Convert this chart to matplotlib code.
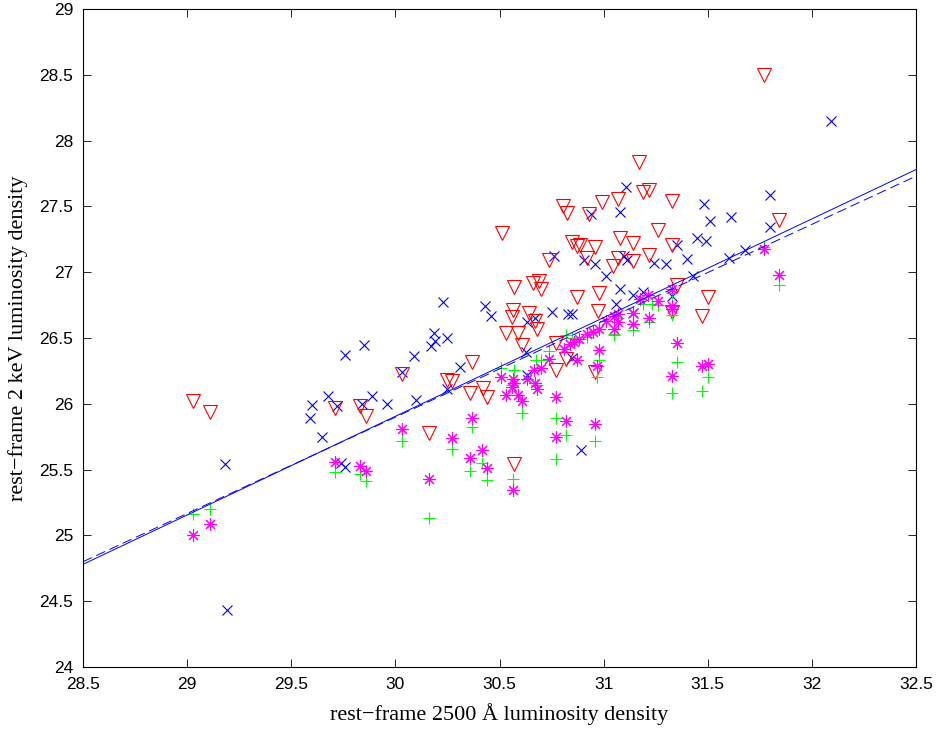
import matplotlib
matplotlib.use("Agg")
import matplotlib.pyplot as plt
from matplotlib.ticker import FormatStrFormatter, MultipleLocator

# blue crosses
bx_x = [32.09, 31.80, 31.80, 31.48, 31.51, 31.61, 31.45, 31.49, 31.35, 31.24,
        31.30, 31.40, 31.60, 31.68, 31.43, 31.33, 31.14, 31.19, 31.08, 31.06,
        31.14, 31.107, 31.08, 30.94, 30.76, 30.907, 30.96, 31.11, 31.10, 31.01,
        30.227, 30.43, 30.46, 30.67, 30.63, 30.75, 30.83, 30.85, 30.187, 30.19,
        30.17, 30.246, 30.09, 29.85, 29.76, 30.627, 30.85, 30.31, 30.25, 30.63,
        30.10, 30.03, 29.96, 29.89, 29.84, 29.72, 29.678, 29.598, 29.59, 29.65,
        29.74, 29.76, 29.18, 29.19, 30.89]
bx_y = [28.15, 27.59, 27.34, 27.52, 27.39, 27.42, 27.26, 27.24, 27.21, 27.07,
        27.06, 27.10, 27.11, 27.17, 26.97, 26.82, 26.83, 26.85, 26.87, 26.76,
        26.69, 27.65, 27.455, 27.44, 27.12, 27.09, 27.06, 27.09, 27.12, 26.97,
        26.77, 26.74, 26.67, 26.65, 26.62, 26.70, 26.68, 26.68, 26.54, 26.48,
        26.44, 26.50, 26.36, 26.45, 26.37, 26.39, 26.345, 26.28, 26.11, 26.22,
        26.03, 26.24, 26.00, 26.06, 26.00, 25.98, 26.06, 25.99, 25.89, 25.75,
        25.55, 25.52, 25.54, 24.43, 25.65]

# red triangles
rv_x = [31.77, 31.17, 31.19, 31.22, 31.33, 31.07, 30.99, 30.806, 30.826, 30.93,
        30.51, 31.84, 31.26, 31.33, 31.14, 31.08, 30.85, 30.87, 30.886, 30.96,
        31.22, 31.14, 31.07, 31.046, 30.74, 30.92, 30.57, 30.66, 30.69, 30.70,
        30.87, 30.98, 31.35, 31.50, 31.33, 31.47, 30.566, 30.56, 30.64, 30.67,
        30.68, 30.975, 30.53, 30.59, 30.61, 30.77, 30.82, 30.37, 30.27, 30.36,
        30.42, 30.44, 30.77, 30.96, 30.25, 30.03, 30.16, 29.71, 29.83, 29.86,
        29.03, 29.11, 30.57]
rv_y = [28.50, 27.84, 27.61, 27.625, 27.54, 27.56, 27.53, 27.50, 27.45, 27.44,
        27.295, 27.40, 27.32, 27.21, 27.22, 27.26, 27.23, 27.20, 27.21, 27.19,
        27.13, 27.085, 27.105, 27.05, 27.09, 27.105, 26.89, 26.92, 26.93, 26.87,
        26.81, 26.84, 26.90, 26.81, 26.70, 26.67, 26.71, 26.66, 26.69, 26.63,
        26.57, 26.705, 26.54, 26.54, 26.45, 26.46, 26.34, 26.32, 26.17, 26.08,
        26.12, 26.05, 26.26, 26.24, 26.18, 26.23, 25.78, 25.97, 25.98, 25.91,
        26.02, 25.935, 25.54]

# green pluses
gp_x = [31.77, 31.84, 31.33, 31.19, 31.23, 31.26, 31.33, 31.22, 31.35, 31.05,
        31.14, 31.33, 31.50, 31.47, 30.506, 30.57, 30.56, 30.61, 30.68, 30.675,
        30.70, 30.74, 30.77, 30.82, 30.77, 30.98, 30.97, 30.96, 30.82, 30.85,
        30.92, 31.05, 31.07, 30.37, 30.27, 30.414, 30.36, 30.44, 30.566, 30.16,
        30.03, 29.71, 29.83, 29.86, 29.03, 29.11]
gp_y = [27.19, 26.90, 26.84, 26.76, 26.755, 26.75, 26.675, 26.62, 26.32, 26.52,
        26.56, 26.08, 26.20, 26.10, 26.27, 26.26, 26.14, 25.93, 26.14, 26.33,
        26.33, 26.40, 25.89, 25.76, 25.58, 26.33, 26.20, 25.72, 26.52, 26.50,
        26.505, 26.53, 26.65, 25.82, 25.66, 25.55, 25.49, 25.42, 25.43, 25.13,
        25.72, 25.48, 25.47, 25.41, 25.16, 25.20]

# magenta asterisks
ms_x = [31.77, 31.84, 31.33, 31.175, 31.215, 31.26, 31.33, 31.33, 31.22, 31.35,
        31.07, 31.14, 31.14, 31.05, 31.07, 31.33, 31.47, 31.50, 30.506, 30.565,
        30.57, 30.56, 30.53, 30.59, 30.61, 30.63, 30.67, 30.68, 30.666, 30.70,
        30.74, 30.77, 30.82, 30.77, 30.87, 30.98, 30.97, 30.96, 30.81, 30.84,
        30.86, 30.88, 30.92, 30.95, 30.98, 31.01, 31.05, 30.37, 30.27, 30.414,
        30.36, 30.44, 30.566, 30.16, 30.03, 29.71, 29.83, 29.86, 29.03, 29.11]
ms_y = [27.18, 26.98, 26.87, 26.80, 26.83, 26.78, 26.74, 26.72, 26.65, 26.46,
        26.68, 26.69, 26.61, 26.57, 26.62, 26.21, 26.29, 26.30, 26.206, 26.19,
        26.16, 26.125, 26.07, 26.07, 26.02, 26.19, 26.16, 26.11, 26.26, 26.27,
        26.34, 26.05, 25.87, 25.75, 26.33, 26.41, 26.29, 25.85, 26.42, 26.455,
        26.47, 26.49, 26.53, 26.545, 26.57, 26.63, 26.67, 25.89, 25.74, 25.65,
        25.585, 25.51, 25.345, 25.43, 25.81, 25.56, 25.53, 25.49, 25.00, 25.09]

# fitted relations
fit_x = [28.5, 32.5]
fit_solid = [24.78, 27.78]
fit_dashed = [24.80, 27.73]

fig = plt.figure(figsize=(9.38, 7.29), dpi=100)
ax = fig.add_axes([83 / 938, 62 / 729, 833 / 938, 658 / 729])

ax.plot(bx_x, bx_y, "x", color="#0000ff", ms=6.5, mew=0.8, ls="none")
ax.plot(rv_x, rv_y, "v", mfc="none", mec="#ff0000", ms=9.5, mew=0.8, ls="none")
ax.plot(gp_x, gp_y, "+", color="#00ff00", ms=8.5, mew=0.8, ls="none")
# MATLAB style '*' : eight-armed asterisk
ax.plot(ms_x, ms_y, ls="none", marker=(8, 2, 0), color="#ff00ff", ms=9, mew=0.8)
ax.plot(fit_x, fit_solid, "-", color="#0000ff", lw=0.7)
ax.plot(fit_x, fit_dashed, color="#0000ff", lw=0.7, dashes=(10, 5))

ax.set_xlim(28.5, 32.5)
ax.set_ylim(24, 29)
ax.xaxis.set_major_locator(MultipleLocator(0.5))
ax.yaxis.set_major_locator(MultipleLocator(0.5))
ax.xaxis.set_major_formatter(FormatStrFormatter("%g"))
ax.yaxis.set_major_formatter(FormatStrFormatter("%g"))
ax.tick_params(direction="in", length=6, width=0.6, top=True, right=True,
               labelsize=12.5, pad=7)
for lab in ax.get_xticklabels() + ax.get_yticklabels():
    lab.set_family("Liberation Sans")
for s in ax.spines.values():
    s.set_linewidth(0.8)

ax.set_xlabel("rest\u2212frame 2500 \u00c5 luminosity density",
              family="Liberation Serif", fontsize=16, labelpad=8)
ax.set_ylabel("rest\u2212frame 2 keV luminosity density",
              family="Liberation Serif", fontsize=16, labelpad=8)

fig.savefig("out.png", dpi=100)
